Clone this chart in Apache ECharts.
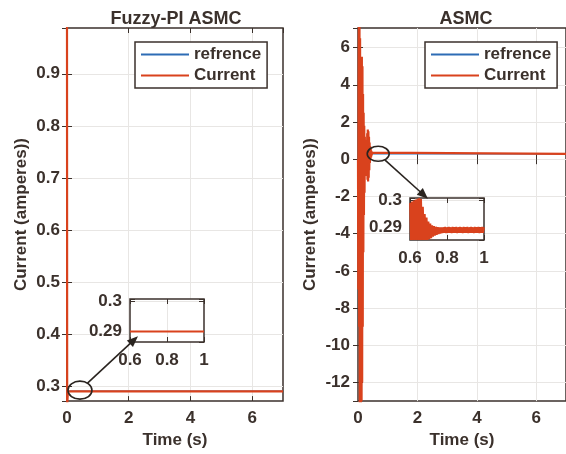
<!DOCTYPE html>
<html><head><meta charset="utf-8">
<script src="https://cdn.jsdelivr.net/npm/echarts@6/dist/echarts.min.js"></script>
<style>html,body{margin:0;padding:0;background:#fff}#c{width:566px;height:454px}</style>
</head><body><div id="c"></div>
<script>
// ---------- data ----------
const timeTicks = [0, 2, 4, 6];
const fuzzyTicks = [0.3, 0.4, 0.5, 0.6, 0.7, 0.8, 0.9];
const asmcTicks = [-12, -10, -8, -6, -4, -2, 0, 2, 4, 6];
const zoomTimeTicks = [0.6, 0.8, 1];
const zoomCurrentTicks = [0.29, 0.3];
const legendNames = ['refrence', 'Current'];

const fuzzyRefTime = [0, 7];
const fuzzyRef = [0.2898, 0.2898];
const fuzzyTime = [0, 0.006, 0.03, 7];
const fuzzyCurrent = [0.99, 0.262, 0.2898, 0.2898];
const fuzzyZoomTime = [0.6, 1.0];
const fuzzyZoomCurrent = [0.2898, 0.2898];

const asmcRefTime = [0, 7];
const asmcRef = [0.2898, 0.2898];
const asmcTime = [0, 0.01, 0.02, 0.03, 0.04, 0.05, 0.06, 0.07, 0.08, 0.09,
  0.10, 0.11, 0.12, 0.13, 0.14, 0.15, 0.16, 0.17, 0.18, 0.19,
  0.20, 0.21, 0.22, 0.23, 0.24, 0.25, 0.26, 0.27, 0.28, 0.29,
  0.30, 0.31, 0.32, 0.33, 0.34, 0.35, 0.36, 0.37, 0.38, 0.39,
  0.40, 0.41, 0.42, 0.43, 0.44, 0.45, 0.46, 0.47, 0.48, 0.49, 0.50, 7];
const asmcCurrent = [0.0, -7, 4, 7.5, -9, 7.5, -13.5, 6.5, -13.5, 5.5,
  -13.5, 5.5, -13, 5.5, -12, 5, -9, 3.5, -5, 2.5,
  -3, 1.8, -1.8, 1.2, -0.9, 0.8, -0.6, 0.9, -0.7, 1.0,
  -0.9, 1.4, -1.1, 1.6, -1.2, 1.5, -1.0, 1.2, -0.6, 0.9,
  -0.2, 0.7, 0.0, 0.55, 0.1, 0.45, 0.2, 0.35, 0.25, 0.3, 0.29, 0.2898];
const asmcZoomTime = [0.600, 0.605, 0.610, 0.615, 0.620, 0.625, 0.630, 0.635, 0.640, 0.645,
  0.650, 0.655, 0.660, 0.665, 0.670, 0.675, 0.680, 0.685, 0.690, 0.695,
  0.700, 0.705, 0.710, 0.715, 0.720, 0.725, 0.730, 0.735, 0.740, 0.745,
  0.750, 0.755, 0.760, 0.765, 0.770, 0.775, 0.780, 0.785, 0.790, 0.795,
  0.800, 0.805, 0.810, 0.815, 0.820, 0.825, 0.830, 0.835, 0.840, 0.845,
  0.850, 0.855, 0.860, 0.865, 0.870, 0.875, 0.880, 0.885, 0.890, 0.895,
  0.900, 0.905, 0.910, 0.915, 0.920, 0.925, 0.930, 0.935, 0.940, 0.945,
  0.950, 0.955, 0.960, 0.965, 0.970, 0.975, 0.980, 0.985, 0.990, 0.995, 1.000];
const asmcZoomCurrent = [0.2989, 0.2852, 0.2994, 0.2852, 0.2998, 0.2852, 0.3001, 0.2852, 0.3004, 0.2852,
  0.3007, 0.2852, 0.3003, 0.2852, 0.2975, 0.2852, 0.2948, 0.2852, 0.2935, 0.2852,
  0.2920, 0.2855, 0.2913, 0.2859, 0.2906, 0.2864, 0.2903, 0.2868, 0.2901, 0.2871,
  0.2900, 0.2874, 0.2899, 0.2876, 0.2899, 0.2877, 0.2899, 0.2878, 0.2900, 0.2877,
  0.2899, 0.2878, 0.2900, 0.2878, 0.2899, 0.2877, 0.2900, 0.2878, 0.2899, 0.2878,
  0.2900, 0.2877, 0.2899, 0.2878, 0.2900, 0.2878, 0.2899, 0.2877, 0.2900, 0.2878,
  0.2899, 0.2878, 0.2900, 0.2877, 0.2899, 0.2878, 0.2900, 0.2878, 0.2899, 0.2877,
  0.2900, 0.2878, 0.2899, 0.2878, 0.2900, 0.2877, 0.2899, 0.2878, 0.2900, 0.2878, 0.2899];

// ---------- style ----------
const TXT = '#3b312c', FRAME = '#3b312c', GRIDC = '#e8e6e4';
const RED = '#d9421d', BLUE = '#2d6cb5';
const FONT = 'Liberation Sans';
const FS = 17;
const txt = (size) => ({ color: TXT, fontWeight: 'bold', fontFamily: FONT, fontSize: size || FS });

const pair = (xs, ys) => xs.map((x, i) => [x, ys[i]]);
const pick = (list) => (v) => { const f = list.find(t => Math.abs(t - v) < 1e-9); return f === undefined ? '' : String(f); };

const grids = [
  { left: 67, top: 28, width: 216, height: 374 },
  { left: 358, top: 28, width: 216, height: 374 },
  { left: 130, top: 299, width: 74, height: 43, z: 5 },
  { left: 410, top: 198, width: 74, height: 42, z: 5 }
].map(g => Object.assign({ show: true, backgroundColor: '#fff', borderColor: FRAME, borderWidth: 1.5 }, g));

const tick = { inside: true, length: 5, lineStyle: { color: FRAME, width: 1 } };
const split = { show: true, showMinLine: false, showMaxLine: false, lineStyle: { color: GRIDC, width: 1 } };

function xAx(gi, min, max, interval, ticks, withLabel, pos, extra) {
  return Object.assign({
    gridIndex: gi, type: 'value', min, max, interval, position: pos,
    axisLine: { show: false }, axisTick: tick,
    axisLabel: { show: withLabel, formatter: pick(ticks), margin: 9, showMinLabel: true, showMaxLabel: false, ...txt() },
    splitLine: withLabel ? split : { show: false }
  }, extra || {});
}
function yAx(gi, min, max, splitNumber, ticks, withLabel, pos, extra) {
  return Object.assign({
    gridIndex: gi, type: 'value', min, max, splitNumber, position: pos,
    axisLine: { show: false }, axisTick: tick,
    axisLabel: { show: withLabel, formatter: pick(ticks), margin: 7, showMinLabel: false, showMaxLabel: false, ...txt() },
    splitLine: withLabel ? split : { show: false }
  }, extra || {});
}
const xName = { name: 'Time (s)', nameLocation: 'middle', nameGap: 27, nameTextStyle: txt() };
const yName = (gap) => ({ name: 'Current (amperes))', nameLocation: 'middle', nameGap: gap, nameTextStyle: txt() });

const xAxis = [
  xAx(0, 0, 7, 2, timeTicks, true, 'bottom', xName),
  xAx(1, 0, 7, 2, timeTicks, true, 'bottom', xName),
  xAx(2, 0.6, 1, 0.2, zoomTimeTicks, true, 'bottom', { z: 5, axisLabel: { formatter: pick(zoomTimeTicks), margin: 10, showMaxLabel: true, ...txt() } }),
  xAx(3, 0.6, 1, 0.2, zoomTimeTicks, true, 'bottom', { z: 5, axisLabel: { formatter: pick(zoomTimeTicks), margin: 10, showMaxLabel: true, ...txt() } }),
  xAx(0, 0, 7, 2, timeTicks, false, 'top'),
  xAx(1, 0, 7, 2, timeTicks, false, 'top'),
  xAx(2, 0.6, 1, 0.2, zoomTimeTicks, false, 'top', { z: 5 }),
  xAx(3, 0.6, 1, 0.2, zoomTimeTicks, false, 'top', { z: 5 })
];
const yAxis = [
  yAx(0, 0.271, 0.988, 7, fuzzyTicks, true, 'left', yName(37)),
  yAx(1, -13, 7.05, 10, asmcTicks, true, 'left', Object.assign(yName(39), { axisLabel: { formatter: pick(asmcTicks), margin: 8, showMinLabel: false, showMaxLabel: false, ...txt() } })),
  yAx(2, 0.2863, 0.3007, 2, zoomCurrentTicks, true, 'left', { z: 5, axisLabel: { formatter: pick(zoomCurrentTicks), margin: 8, showMinLabel: false, showMaxLabel: true, ...txt() } }),
  yAx(3, 0.2852, 0.3007, 2, zoomCurrentTicks, true, 'left', { z: 5, axisLabel: { formatter: pick(zoomCurrentTicks), margin: 8, showMinLabel: false, showMaxLabel: true, ...txt() } }),
  yAx(0, 0.271, 0.988, 7, fuzzyTicks, false, 'right'),
  yAx(1, -13, 7.05, 10, asmcTicks, false, 'right'),
  yAx(2, 0.2863, 0.3007, 2, zoomCurrentTicks, false, 'right', { z: 5 }),
  yAx(3, 0.2852, 0.3007, 2, zoomCurrentTicks, false, 'right', { z: 5 })
];

function line(name, ai, data, color, width, z) {
  return { type: 'line', name, xAxisIndex: ai, yAxisIndex: ai, data, symbol: 'none', showSymbol: false,
    color, lineStyle: { color, width }, z: z || 2, animation: false, silent: true, clip: true };
}

const series = [
  line(legendNames[0], 0, pair(fuzzyRefTime, fuzzyRef), BLUE, 1.5),
  line(legendNames[1], 0, pair(fuzzyTime, fuzzyCurrent), RED, 2.2),
  line(legendNames[0], 1, pair(asmcRefTime, asmcRef), BLUE, 1.5),
  line(legendNames[1], 1, pair(asmcTime, asmcCurrent), RED, 2.2),
  line(legendNames[1], 2, pair(fuzzyZoomTime, fuzzyZoomCurrent), RED, 2, 6),
  line(legendNames[1], 3, pair(asmcZoomTime, asmcZoomCurrent), RED, 1.8, 6)
];

const legendBase = {
  orient: 'vertical', top: 42, data: legendNames, icon: 'rect', itemWidth: 48, itemHeight: 2,
  itemGap: 4, padding: [4, 6, 4, 6], borderColor: FRAME, borderWidth: 1.5, backgroundColor: '#fff',
  textStyle: txt(), selectedMode: false, z: 10
};

const chart = echarts.init(document.getElementById('c'), null, { renderer: 'canvas' });
chart.setOption({
  animation: false,
  backgroundColor: '#fff',
  title: [
    { text: 'Fuzzy-PI ASMC', left: 176, top: 10, textAlign: 'center', textStyle: txt(18), padding: 0 },
    { text: 'ASMC', left: 466, top: 10, textAlign: 'center', textStyle: txt(18), padding: 0 }
  ],
  legend: [Object.assign({ left: 135 }, legendBase), Object.assign({ left: 425 }, legendBase)],
  grid: grids, xAxis, yAxis, series
});

// ---------- annotations (zoom ellipses + arrows) ----------
function annot(gridMain, centerPt, rx, ry, gridInset, tipPt) {
  const c = chart.convertToPixel({ gridIndex: gridMain }, centerPt);
  const t = chart.convertToPixel({ gridIndex: gridInset }, tipPt);
  const dx = t[0] - c[0], dy = t[1] - c[1];
  const s = 1 / Math.sqrt((dx / rx) ** 2 + (dy / ry) ** 2);
  const sx = c[0] + dx * s, sy = c[1] + dy * s;
  const len = Math.hypot(t[0] - sx, t[1] - sy), ux = (t[0] - sx) / len, uy = (t[1] - sy) / len;
  const hl = 11, hw = 4.5;
  const bx = t[0] - ux * hl, by = t[1] - uy * hl;
  return [
    { type: 'ellipse', shape: { cx: c[0], cy: c[1], rx, ry }, style: { fill: 'none', stroke: '#2a2420', lineWidth: 1.6 }, z: 100 },
    { type: 'line', shape: { x1: sx, y1: sy, x2: bx + ux * 2, y2: by + uy * 2 }, style: { stroke: '#2a2420', lineWidth: 1.6 }, z: 100 },
    { type: 'polygon', shape: { points: [[t[0], t[1]], [bx - uy * hw, by + ux * hw], [bx + uy * hw, by - ux * hw]] }, style: { fill: '#2a2420' }, z: 100 }
  ];
}
chart.setOption({
  graphic: [].concat(
    annot(0, [0.42, 0.292], 12, 9, 2, [0.643, 0.2882]),
    annot(1, [0.68, 0.29], 11, 7.5, 3, [0.697, 0.3004])
  )
});
</script></body></html>
